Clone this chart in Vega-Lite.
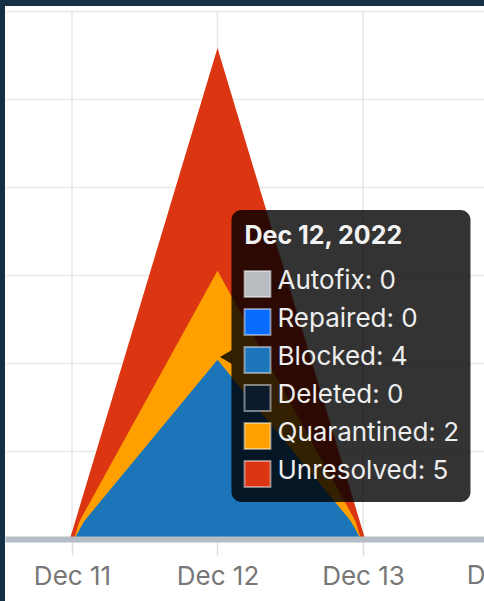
{
  "$schema": "https://vega.github.io/schema/vega-lite/v6.json",
  "autosize": {"type": "none"},
  "width": 479,
  "height": 595,
  "padding": {"left": 5, "top": 6, "right": 0, "bottom": 0},
  "background": "#133046",
  "view": {"fill": "white", "stroke": null},
  "config": {"font": "Inter"},
  "datasets": {
    "counts": [
      {"date": "2022-12-11", "series": "Autofix", "value": 0},
      {"date": "2022-12-11", "series": "Repaired", "value": 0},
      {"date": "2022-12-11", "series": "Blocked", "value": 0},
      {"date": "2022-12-11", "series": "Deleted", "value": 0},
      {"date": "2022-12-11", "series": "Quarantined", "value": 0},
      {"date": "2022-12-11", "series": "Unresolved", "value": 0},
      {"date": "2022-12-12", "series": "Autofix", "value": 0},
      {"date": "2022-12-12", "series": "Repaired", "value": 0},
      {"date": "2022-12-12", "series": "Blocked", "value": 4},
      {"date": "2022-12-12", "series": "Deleted", "value": 0},
      {"date": "2022-12-12", "series": "Quarantined", "value": 2},
      {"date": "2022-12-12", "series": "Unresolved", "value": 5},
      {"date": "2022-12-13", "series": "Autofix", "value": 0},
      {"date": "2022-12-13", "series": "Repaired", "value": 0},
      {"date": "2022-12-13", "series": "Blocked", "value": 0},
      {"date": "2022-12-13", "series": "Deleted", "value": 0},
      {"date": "2022-12-13", "series": "Quarantined", "value": 0},
      {"date": "2022-12-13", "series": "Unresolved", "value": 0}
    ],
    "gridDates": [
      {"date": "2022-12-11"},
      {"date": "2022-12-12"},
      {"date": "2022-12-13"}
    ],
    "extraDates": [
      {"date": "2022-12-14"}
    ]
  },
  "data": {"name": "counts"},
  "resolve": {"scale": {"y": "independent"}},
  "layer": [
    {
      "layer": [
        {
          "data": {"name": "gridDates"},
          "mark": {"type": "rule", "color": "#e6e6e6", "strokeWidth": 1.5},
          "encoding": {
            "x": {
              "field": "date",
              "type": "temporal",
              "scale": {"type": "utc", "domain": [1670677014433, 1670961451890]},
              "axis": {
                "values": [1670716800000, 1670803200000, 1670889600000],
                "labelExpr": "utcFormat(datum.value, '%b %-d')",
                "offset": -62,
                "domainColor": "#b4bcc6",
                "domainWidth": 6,
                "tickColor": "#dddddd",
                "tickSize": 16,
                "tickWidth": 1.5,
                "labelFont": "Inter",
                "labelFontSize": 26,
                "labelColor": "#777777",
                "labelBaseline": "alphabetic",
                "labelPadding": 29,
                "labelFlush": false,
                "labelOverlap": false,
                "grid": false,
                "title": null,
                "zindex": 1
              }
            },
            "y": {
              "datum": 0,
              "type": "quantitative",
              "scale": {"domain": [-1.409, 12.114], "nice": false, "zero": false},
              "axis": {
                "values": [2, 4, 6, 8, 10, 12],
                "labels": false,
                "ticks": false,
                "domain": false,
                "title": null,
                "grid": true,
                "gridColor": "#e8e8e8",
                "gridWidth": 1.5
              }
            },
            "y2": {"datum": 12}
          }
        },
        {
          "mark": {"type": "area"},
          "encoding": {
            "x": {"field": "date", "type": "temporal"},
            "y": {"field": "value", "type": "quantitative", "stack": "zero"},
            "order": {"field": "series", "sort": "ascending"},
            "color": {
              "field": "series",
              "type": "nominal",
              "scale": {
                "domain": ["Autofix", "Repaired", "Blocked", "Deleted", "Quarantined", "Unresolved"],
                "range": ["#b9bdc2", "#0a6cfc", "#1b75b8", "#0b1b2b", "#ffa000", "#dc3512"]
              },
              "legend": null
            }
          }
        },
        {
          "transform": [{"filter": {"field": "series", "oneOf": ["Blocked", "Quarantined", "Unresolved"]}}],
          "mark": {"type": "line", "strokeWidth": 4, "strokeJoin": "miter", "strokeMiterLimit": 10},
          "encoding": {
            "x": {"field": "date", "type": "temporal"},
            "y": {"field": "value", "type": "quantitative", "stack": "zero"},
            "order": {"field": "series", "sort": "ascending"},
            "color": {"field": "series", "type": "nominal", "legend": null}
          }
        },
        {
          "data": {"name": "extraDates"},
          "mark": {"type": "text", "fontSize": 26, "color": "#777777", "baseline": "alphabetic", "align": "center", "dy": 45},
          "encoding": {
            "x": {"field": "date", "type": "temporal"},
            "y": {"datum": 0, "type": "quantitative"},
            "text": {"field": "date", "type": "temporal", "timeUnit": "utcmonthdate", "format": "%b %-d"}
          }
        }
      ]
    },
    {
      "transform": [
        {"filter": "utcdate(toDate(datum.date)) == 12"},
        {"window": [{"op": "row_number", "as": "rank"}]}
      ],
      "layer": [
        {
          "transform": [{"filter": "datum.rank == 1"}],
          "mark": {"type": "rect", "color": "black", "opacity": 0.8, "cornerRadius": 10},
          "encoding": {
            "x": {"datum": {"year": 2022, "month": 12, "date": 12, "hours": 2, "minutes": 18, "utc": true}, "type": "temporal"},
            "x2": {"datum": {"year": 2022, "month": 12, "date": 13, "hours": 17, "minutes": 44, "utc": true}},
            "y": {
              "datum": -0.947,
              "type": "quantitative",
              "scale": {"domain": [-6.3158, 9.3421], "reverse": true, "nice": false, "zero": false},
              "axis": null
            },
            "y2": {"datum": 6.737}
          }
        },
        {
          "transform": [{"filter": "datum.rank == 1"}],
          "mark": {"type": "point", "shape": "M -1 0 L 0.7 -1 L 0.7 1 Z", "size": 196, "filled": true, "color": "black", "opacity": 0.8, "strokeWidth": 0},
          "encoding": {
            "x": {"datum": {"year": 2022, "month": 12, "date": 12, "hours": 1, "minutes": 34, "utc": true}, "type": "temporal"},
            "y": {"datum": 2.92, "type": "quantitative"}
          }
        },
        {
          "transform": [{"filter": "datum.rank == 1"}],
          "mark": {"type": "text", "fontSize": 25, "fontWeight": "bold", "color": "#f2f2f2", "align": "left", "baseline": "alphabetic"},
          "encoding": {
            "x": {"datum": {"year": 2022, "month": 12, "date": 12, "hours": 4, "minutes": 27, "utc": true}, "type": "temporal"},
            "y": {"datum": -0.0526, "type": "quantitative"},
            "text": {"field": "date", "type": "temporal", "timeUnit": "utcyearmonthdate", "format": "%b %-d, %Y"}
          }
        },
        {
          "mark": {"type": "point", "shape": "square", "size": 676, "filled": true, "opacity": 1, "stroke": "white", "strokeOpacity": 0.45, "strokeWidth": 2},
          "encoding": {
            "x": {"datum": {"year": 2022, "month": 12, "date": 12, "hours": 6, "minutes": 36, "utc": true}, "type": "temporal"},
            "y": {"field": "rank", "type": "quantitative"},
            "color": {"field": "series", "type": "nominal", "legend": null}
          }
        },
        {
          "transform": [{"calculate": "datum.series + ': ' + datum.value", "as": "label"}],
          "mark": {"type": "text", "fontSize": 26, "color": "#eeeeee", "align": "left", "baseline": "alphabetic", "dy": 5},
          "encoding": {
            "x": {"datum": {"year": 2022, "month": 12, "date": 12, "hours": 9, "minutes": 54, "utc": true}, "type": "temporal"},
            "y": {"field": "rank", "type": "quantitative"},
            "text": {"field": "label", "type": "nominal"}
          }
        }
      ]
    }
  ]
}
